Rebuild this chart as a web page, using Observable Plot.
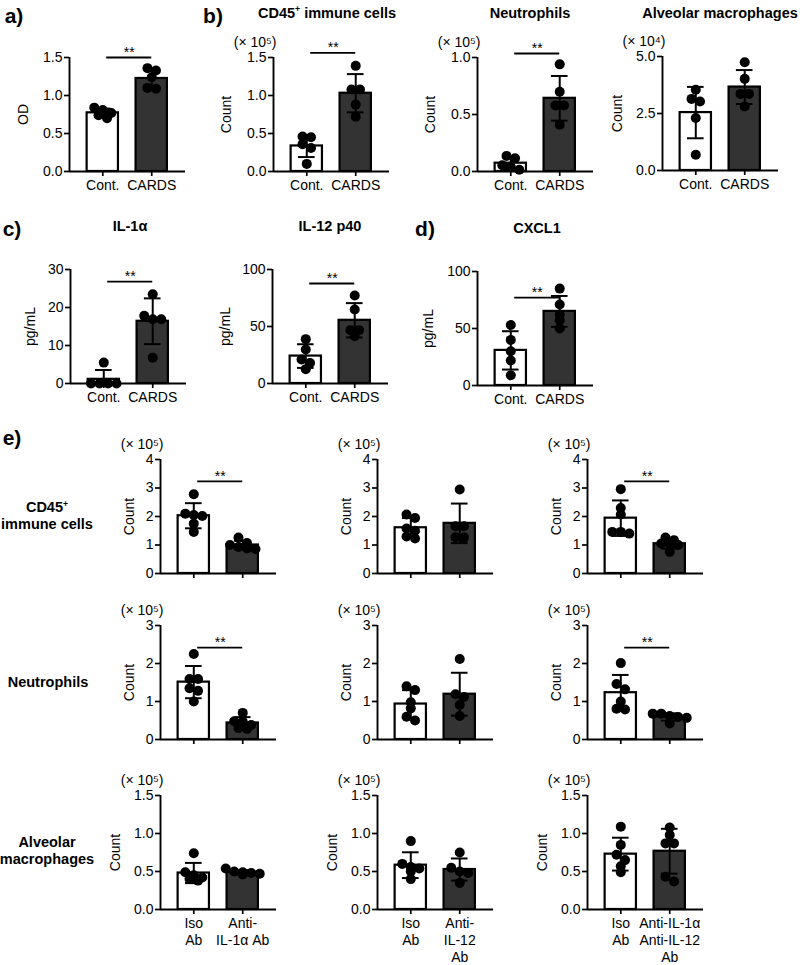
<!DOCTYPE html>
<html><head><meta charset="utf-8">
<script src="https://cdn.jsdelivr.net/npm/d3@7"></script>
<script src="https://cdn.jsdelivr.net/npm/@observablehq/plot@0.6"></script>
<style>
body{margin:0;background:#fff;}
#fig{position:relative;width:800px;height:965px;font-family:"Liberation Sans",Arial,Helvetica,sans-serif;color:#000;overflow:hidden;background:#fff}
.lab{position:absolute;transform:translate(-50%,-50%);font-weight:bold;white-space:nowrap;text-align:center;line-height:17px}
.letter{font-size:21px}
.title{font-size:14.5px}
.panel{position:absolute}
.panel svg{overflow:visible}
.panel svg text{font-size:14px;font-family:"Liberation Sans",Arial,sans-serif}
.panel svg [aria-label^="x-axis"], .panel svg [aria-label^="y-axis"]{stroke-width:1.7px}
</style></head><body><div id="fig"></div><script>
// ---------- data ----------
const contCards = ["Cont.", "CARDS"];
const isoLabels1 = ["Iso\nAb", "Anti-\nIL-1α Ab"];
const isoLabels2 = ["Iso\nAb", "Anti-\nIL-12\nAb"];
const isoLabels3 = ["Iso\nAb", "Anti-IL-1α\nAnti-IL-12\nAb"];

const ticksOD = [0, 0.5, 1.0, 1.5];
const ticksB1 = [0, 0.5, 1.0, 1.5];
const ticksB2 = [0, 0.5, 1.0];
const ticksB3 = [0, 2.5, 5.0];
const ticksC1 = [0, 10, 20, 30];
const ticksC2 = [0, 50, 100];
const ticksD = [0, 50, 100];
const ticksE1 = [0, 1, 2, 3, 4];
const ticksE2 = [0, 1, 2, 3];
const ticksE3 = [0, 0.5, 1.0, 1.5];

// a) OD
const odCont = [0.77, 0.70, 0.84, 0.74, 0.81];
const odCards = [1.33, 1.24, 1.36, 1.09, 1.10];
// b) counts
const cd45Cont = [0.46, 0.36, 0.45, 0.31, 0.10];
const cd45Cards = [1.39, 1.08, 1.08, 0.88, 0.72];
const neuCont = [0.055, 0.137, 0.117, 0.015, 0.04];
const neuCards = [0.94, 0.70, 0.58, 0.58, 0.41];
const amCont = [3.54, 3.03, 3.14, 2.30, 0.69];
const amCards = [4.75, 4.02, 3.36, 3.36, 2.81];
// c) d) cytokines
const il1Cont = [5.5, 0, 0, 0, 0];
const il1Cards = [23.5, 16.9, 16.9, 17.8, 6.8];
const il12Cont = [38.9, 29.8, 21, 18, 12.6];
const il12Cards = [77.2, 64.9, 46.8, 46.8, 41.5];
const cxclCont = [53, 40, 30, 22, 9];
const cxclCards = [85, 71, 62, 57, 50];
// e) antibody treatments
const eCd45IsoA = [2.78, 2.05, 2.02, 2.10, 1.75, 1.46];
const eCd45AntiA = [1.26, 1.07, 1.00, 0.93, 0.88, 0.86];
const eCd45IsoB = [2.07, 1.95, 1.58, 1.50, 1.23, 1.30];
const eCd45AntiB = [2.95, 1.66, 1.66, 1.27, 1.26];
const eCd45IsoC = [2.96, 2.30, 2.07, 1.46, 1.40, 1.46];
const eCd45AntiC = [1.17, 1.26, 0.76, 1.05, 1.03, 1.00];
const eNeuIsoA = [2.25, 1.59, 1.59, 1.35, 1.28, 1.00];
const eNeuAntiA = [0.70, 0.48, 0.47, 0.38, 0.30, 0.28];
const eNeuIsoB = [1.40, 1.30, 0.98, 0.82, 0.60, 0.50];
const eNeuAntiB = [2.12, 1.12, 1.19, 0.91, 0.62];
const eNeuIsoC = [2.01, 1.46, 1.32, 1.00, 0.79, 0.81];
const eNeuAntiC = [0.68, 0.68, 0.62, 0.59, 0.57, 0.42];
const eAmIsoA = [0.74, 0.49, 0.45, 0.42, 0.40, 0.38];
const eAmAntiA = [0.54, 0.50, 0.49, 0.48, 0.47, 0.46];
const eAmIsoB = [0.90, 0.60, 0.56, 0.54, 0.50, 0.40];
const eAmAntiB = [0.75, 0.55, 0.50, 0.48, 0.35];
const eAmIsoC = [1.09, 0.85, 0.72, 0.65, 0.57, 0.49];
const eAmAntiC = [1.08, 0.98, 0.87, 0.87, 0.43, 0.37];

// ---------- layout ----------
const PW = 116, PH = 114, ML = 60, MT = 36, MR = 12, MB = 62;
const XDOM = [-0.68, 1.69];
const BAR_HALF = 0.32, CAP_HALF = 0.17, R = 5;
const barFills = ["#ffffff", "#333333"];
const f1 = d3.format(".1f"), f0 = d3.format("d");
const x5 = "(× 10⁵)", x4 = "(× 10⁴)";

function spread(vals, pxY) {
  const order = d3.range(vals.length).sort((a, b) => vals[b] - vals[a]);
  const rows = [];
  for (const k of order) {
    const row = rows[rows.length - 1];
    if (row && (vals[row[0]] - vals[k]) * pxY < 1.1 * R) row.push(k);
    else rows.push([k]);
  }
  const off = [];
  for (const row of rows) row.forEach((k, j) => off[k] = (j - (row.length - 1) / 2) * 1.7 * R);
  return off;
}

function panel(p) {
  const pxY = PH / p.yMax, pxX = PW / (XDOM[1] - XDOM[0]);
  const bars = p.groups.map((vals, i) => {
    const m = d3.mean(vals), s = d3.deviation(vals);
    return {i, m, lo: Math.max(0, m - s), hi: m + s, showLo: m - s >= 0, fill: barFills[i]};
  });
  const dots = p.groups.flatMap((vals, i) => {
    const off = spread(vals, pxY);
    return vals.map((v, k) => ({x: i + off[k] / pxX, v}));
  });
  const marks = [
    Plot.rect(bars, {x1: d => d.i - BAR_HALF, x2: d => d.i + BAR_HALF, y1: () => 0, y2: "m", fill: "fill", stroke: "#000", strokeWidth: 2.2}),
    Plot.ruleX(bars, {x: "i", y1: "lo", y2: "hi", stroke: "#000", strokeWidth: 2}),
    Plot.ruleY(bars, {y: "hi", x1: d => d.i - CAP_HALF, x2: d => d.i + CAP_HALF, stroke: "#000", strokeWidth: 2}),
    Plot.ruleY(bars.filter(d => d.showLo), {y: "lo", x1: d => d.i - CAP_HALF, x2: d => d.i + CAP_HALF, stroke: "#000", strokeWidth: 2}),
    Plot.dot(dots, {x: "x", y: "v", r: R, fill: "#000", stroke: "none"}),
    Plot.ruleX([XDOM[0]], {stroke: "#000", strokeWidth: 1.9}),
    Plot.ruleY([0], {stroke: "#000", strokeWidth: 1.9}),
    Plot.text(p.labels, {x: (d, i) => i, y: () => 0, text: d => d, dy: 7, lineAnchor: "top", lineHeight: 1.2, fontSize: 14, fill: "#000"})
  ];
  if (p.sig != null) {
    marks.push(Plot.ruleY([p.sig], {x1: () => 0.08, x2: () => 1.0, stroke: "#000", strokeWidth: 1.8}));
    marks.push(Plot.text(["**"], {x: () => 0.54, y: () => p.sig, text: d => d, dy: -5, fontSize: 14, fill: "#000"}));
  }
  if (p.scale) {
    marks.push(Plot.text([p.scale], {frameAnchor: "top-left", text: d => d, dx: 3, dy: -20, textAnchor: "end", fontSize: 14, fill: "#000"}));
  }
  const svg = Plot.plot({
    width: ML + PW + MR, height: MT + PH + MB,
    marginLeft: ML, marginRight: MR, marginTop: MT, marginBottom: MB,
    style: {background: "transparent", fontSize: "14px", fontFamily: "'Liberation Sans', Arial, sans-serif", color: "#000", overflow: "visible"},
    color: {type: "identity"},
    x: {type: "linear", domain: XDOM, ticks: [0, 1], tickFormat: () => "", tickSize: 5, label: null},
    y: {type: "linear", domain: [0, p.yMax], ticks: p.yTicks, tickFormat: p.fmt, tickSize: 5, tickPadding: 2,
        label: p.yLabel, labelAnchor: "center", labelOffset: p.labelOffset, labelArrow: "none"},
    marks
  });
  const div = document.createElement("div");
  div.className = "panel";
  div.style.left = (p.axisX - ML) + "px";
  div.style.top = (p.topY - MT) + "px";
  div.appendChild(svg);
  document.getElementById("fig").appendChild(div);
}

const panels = [
  {axisX: 69, topY: 57, groups: [odCont, odCards], labels: contCards, yMax: 1.5, yTicks: ticksOD, fmt: f1, yLabel: "OD", labelOffset: 51, sig: 1.5},
  {axisX: 273, topY: 57, groups: [cd45Cont, cd45Cards], labels: contCards, yMax: 1.5, yTicks: ticksB1, fmt: f1, yLabel: "Count", labelOffset: 52, sig: 1.56, scale: x5},
  {axisX: 477, topY: 57, groups: [neuCont, neuCards], labels: contCards, yMax: 1.0, yTicks: ticksB2, fmt: f1, yLabel: "Count", labelOffset: 52, sig: 1.035, scale: x5},
  {axisX: 662, topY: 56, groups: [amCont, amCards], labels: contCards, yMax: 5.0, yTicks: ticksB3, fmt: f1, yLabel: "Count", labelOffset: 50, scale: x4},
  {axisX: 70, topY: 269, groups: [il1Cont, il1Cards], labels: contCards, yMax: 30, yTicks: ticksC1, fmt: f0, yLabel: "pg/mL", labelOffset: 45, sig: 26.8},
  {axisX: 272, topY: 269, groups: [il12Cont, il12Cards], labels: contCards, yMax: 100, yTicks: ticksC2, fmt: f0, yLabel: "pg/mL", labelOffset: 52, sig: 87.7},
  {axisX: 477, topY: 271, groups: [cxclCont, cxclCards], labels: contCards, yMax: 100, yTicks: ticksD, fmt: f0, yLabel: "pg/mL", labelOffset: 54, sig: 77},
  {axisX: 160, topY: 459, groups: [eCd45IsoA, eCd45AntiA], labels: ["", ""], yMax: 4, yTicks: ticksE1, fmt: f0, yLabel: "Count", labelOffset: 36, sig: 3.23, scale: x5},
  {axisX: 377, topY: 459, groups: [eCd45IsoB, eCd45AntiB], labels: ["", ""], yMax: 4, yTicks: ticksE1, fmt: f0, yLabel: "Count", labelOffset: 36, scale: x5},
  {axisX: 587, topY: 459, groups: [eCd45IsoC, eCd45AntiC], labels: ["", ""], yMax: 4, yTicks: ticksE1, fmt: f0, yLabel: "Count", labelOffset: 36, sig: 3.23, scale: x5},
  {axisX: 160, topY: 625, groups: [eNeuIsoA, eNeuAntiA], labels: ["", ""], yMax: 3, yTicks: ticksE2, fmt: f0, yLabel: "Count", labelOffset: 36, sig: 2.42, scale: x5},
  {axisX: 377, topY: 625, groups: [eNeuIsoB, eNeuAntiB], labels: ["", ""], yMax: 3, yTicks: ticksE2, fmt: f0, yLabel: "Count", labelOffset: 36, scale: x5},
  {axisX: 587, topY: 625, groups: [eNeuIsoC, eNeuAntiC], labels: ["", ""], yMax: 3, yTicks: ticksE2, fmt: f0, yLabel: "Count", labelOffset: 36, sig: 2.42, scale: x5},
  {axisX: 160, topY: 795, groups: [eAmIsoA, eAmAntiA], labels: isoLabels1, yMax: 1.5, yTicks: ticksE3, fmt: f1, yLabel: "Count", labelOffset: 50, scale: x5},
  {axisX: 377, topY: 795, groups: [eAmIsoB, eAmAntiB], labels: isoLabels2, yMax: 1.5, yTicks: ticksE3, fmt: f1, yLabel: "Count", labelOffset: 50, scale: x5},
  {axisX: 587, topY: 795, groups: [eAmIsoC, eAmAntiC], labels: isoLabels3, yMax: 1.5, yTicks: ticksE3, fmt: f1, yLabel: "Count", labelOffset: 50, scale: x5}
];
panels.forEach(panel);

// ---------- titles ----------
const texts = [
  ["letter", 14, 15, "a)"], ["letter", 213, 15, "b)"], ["letter", 12, 228, "c)"], ["letter", 425, 228, "d)"], ["letter", 12, 437, "e)"],
  ["title", 327, 13, "CD45<sup>+</sup> immune cells"], ["title", 530, 13, "Neutrophils"], ["title", 720, 13, "Alveolar macrophages"],
  ["title", 130, 226, "IL-1α"], ["title", 330, 226, "IL-12 p40"], ["title", 537, 228, "CXCL1"],
  ["title", 47, 516, "CD45<sup>+</sup><br>immune cells"], ["title", 48, 682, "Neutrophils"], ["title", 47, 851, "Alveolar<br>macrophages"]
];
for (const [cls, x, y, html] of texts) {
  const d = document.createElement("div");
  d.className = "lab " + cls;
  d.style.left = x + "px"; d.style.top = y + "px";
  d.innerHTML = html.replace(/<sup>/g, '<sup style="font-size:0.6em;vertical-align:0.6em;line-height:0">');
  document.getElementById("fig").appendChild(d);
}
</script></body></html>
